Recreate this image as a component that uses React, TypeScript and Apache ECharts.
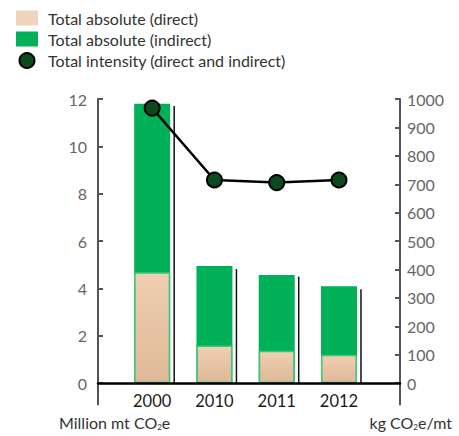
import React, { useEffect, useRef } from "react";
import * as echarts from "echarts";

// Categories and values
const years = ["2000", "2010", "2011", "2012"];
const directAbsolute = [4.68, 1.59, 1.37, 1.2]; // million mt CO2e
const indirectAbsolute = [7.12, 3.36, 3.2, 2.89]; // million mt CO2e
const dividerHeights = [11.7, 4.82, 4.5, 3.97]; // thin rule beside each bar
const intensity = [968, 715, 706, 715]; // kg CO2e/mt
const leftTicks = [0, 2, 4, 6, 8, 10, 12];
const rightTicks = [0, 100, 200, 300, 400, 500, 600, 700, 800, 900, 1000];

const FONT = "Lato, 'Open Sans', sans-serif";
const GREEN = "#00b15a";

export default function App() {
  const ref = useRef<HTMLDivElement>(null);

  useEffect(() => {
    if (!ref.current) return;
    const chart = echarts.init(ref.current, undefined, { renderer: "svg" });
    const idx = years.map((_, i) => i);
    // the green column shows direct + indirect, with the direct part laid over it
    const absoluteTotals = idx.map((i) => directAbsolute[i] + indirectAbsolute[i]);

    chart.setOption({
      animation: false,
      textStyle: { fontFamily: FONT },
      legend: {
        orient: "vertical",
        left: 11,
        top: 5,
        itemWidth: 22,
        itemHeight: 15,
        itemGap: 5,
        textStyle: { fontFamily: FONT, fontSize: 16, color: "#333", padding: [0, 0, 0, 5] },
        data: [
          { name: "Total absolute (direct)", icon: "rect", itemStyle: { color: "#f0d3bb", borderWidth: 0 } },
          { name: "Total absolute (indirect)", icon: "rect" },
          { name: "Total intensity (direct and indirect)", icon: "circle" },
        ],
      },
      grid: { left: 98, right: 59, top: 99, bottom: 31.5 },
      xAxis: {
        type: "value",
        min: -0.87,
        max: 3.98,
        z: 5,
        splitLine: { show: false },
        axisLine: { show: true, onZero: true, lineStyle: { color: "#000", width: 2.5 } },
        axisTick: { show: false },
        axisLabel: {
          customValues: idx,
          formatter: (v: number) => years[Math.round(v)] ?? "",
          fontSize: 16.5,
          color: "#1a1a1a",
          margin: -12,
          fontFamily: FONT,
        },
      },
      yAxis: [
        {
          type: "value",
          position: "left",
          min: -0.9,
          max: 12,
          splitLine: { show: false },
          axisLine: { show: true, onZero: false, lineStyle: { color: "#555", width: 2 } },
          axisTick: { show: true, inside: true, length: 5, customValues: leftTicks, lineStyle: { color: "#555", width: 2 } },
          axisLabel: {
            customValues: leftTicks,
            formatter: (v: number) => String(v),
            fontSize: 16,
            color: "#666",
            margin: 11,
            fontFamily: FONT,
          },
        },
        {
          type: "value",
          position: "right",
          min: -75,
          max: 1000,
          splitLine: { show: false },
          axisLine: { show: true, onZero: false, lineStyle: { color: "#555", width: 2 } },
          axisTick: { show: true, inside: true, length: 5, customValues: rightTicks, lineStyle: { color: "#555", width: 2 } },
          axisLabel: {
            customValues: rightTicks,
            formatter: (v: number) => String(v),
            fontSize: 16,
            color: "#666",
            margin: 7,
            fontFamily: FONT,
          },
        },
      ],
      series: [
        {
          name: "Total absolute (indirect)",
          type: "bar",
          barWidth: 36,
          barGap: "-100%",
          yAxisIndex: 0,
          z: 2,
          itemStyle: { color: GREEN },
          data: idx.map((i) => [i, absoluteTotals[i]]),
        },
        {
          name: "Total absolute (direct)",
          type: "bar",
          barWidth: 36,
          barGap: "-100%",
          yAxisIndex: 0,
          z: 3,
          itemStyle: {
            color: new echarts.graphic.LinearGradient(0, 0, 0, 1, [
              { offset: 0, color: "#f0cfb2" },
              { offset: 1, color: "#dfb898" },
            ]),
            borderColor: "#3cc57c",
            borderWidth: 1.5,
          },
          data: idx.map((i) => [i, directAbsolute[i]]),
        },
        {
          name: "divider",
          type: "custom",
          yAxisIndex: 0,
          silent: true,
          z: 2,
          encode: { x: 0, y: 1 },
          renderItem: (_params: any, api: any) => {
            const top = api.coord([api.value(0), api.value(1)]);
            const base = api.coord([api.value(0), 0]);
            return {
              type: "line",
              shape: { x1: top[0] + 22, y1: top[1], x2: base[0] + 22, y2: base[1] },
              style: { stroke: "#111", lineWidth: 1.5 },
            };
          },
          data: idx.map((i) => [i, dividerHeights[i]]),
        },
        {
          name: "Total intensity (direct and indirect)",
          type: "line",
          yAxisIndex: 1,
          z: 10,
          symbol: "circle",
          symbolSize: 15,
          lineStyle: { color: "#000", width: 2.5 },
          itemStyle: { color: "#0b4a1d", borderColor: "#000", borderWidth: 2 },
          data: idx.map((i) => [i, intensity[i]]),
        },
      ],
      graphic: [
        {
          type: "text",
          left: 59,
          top: 414,
          style: {
            text: "{a|Million mt CO}{s|2}{a|e}",
            rich: {
              a: { fontSize: 16, fill: "#333", fontFamily: FONT },
              s: { fontSize: 8, fill: "#333", fontFamily: FONT, padding: [10, 0, 0, 0] },
            },
          },
        },
        {
          type: "text",
          right: 7,
          top: 414,
          style: {
            text: "{a|kg CO}{s|2}{a|e/mt}",
            rich: {
              a: { fontSize: 16, fill: "#333", fontFamily: FONT },
              s: { fontSize: 8, fill: "#333", fontFamily: FONT, padding: [10, 0, 0, 0] },
            },
          },
        },
      ],
    });

    return () => chart.dispose();
  }, []);

  return (
    <div
      ref={ref}
      style={{ position: "fixed", left: 0, top: 0, width: 459, height: 436, background: "#fff" }}
    />
  );
}
